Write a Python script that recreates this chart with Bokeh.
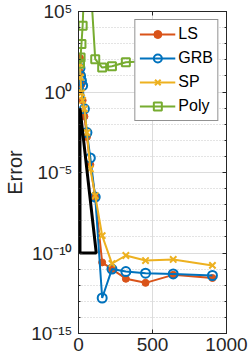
from bokeh.plotting import figure
from bokeh.models import Range1d, FixedTicker, LogAxis, LinearAxis
from bokeh.embed import file_html
from bokeh.resources import INLINE

# ---- data ----
N = [10, 14, 20, 28, 40, 57, 80, 113, 160, 226, 320, 453, 640, 905]
err_LS = [1.3e2, 1.6e1, 3e0, 3e-1, 3e-2, 1.6e-3, 3e-5, 3e-7,
          2.6e-11, 1.0e-11, 2.5e-12, 1.4e-12, 4.4e-12, 2.8e-12]
err_GRB = [3e1, 1e1, 5e0, 2.5e0, 9e-2, 3e-3, 8e-5, 3e-7,
           1.6e-13, 1.0e-11, 7e-12, 5.6e-12, 5e-12, 4e-12]
err_SP = [6e1, 8e0, 9e-1, 3e-1, 9e-2, 3e-3, 1.7e-5, 3.6e-7,
          1.2e-9, 2.2e-11, 7e-11, 3.4e-11, 4e-11, 1.7e-11]
N_poly = [10, 14, 20, 28, 40, 57, 80, 113, 160, 226, 320, 453]
err_Poly = [56, 140, 950, 1.3e4, 1e7, 1e8, 1e7, 110, 33, 40, 70, 80]
tri_x = [10, 10, 120, 10]
tri_y = [1e-1, 1e-10, 1e-10, 1e-1]

x_ticks = [0, 500, 1000]
y_ticks = [1e-15, 1e-10, 1e-5, 1e0, 1e5]
y_tick_labels = ["10\u207b\u00b9\u2075", "10\u207b\u00b9\u2070", "10\u207b\u2075", "10\u2070", "10\u2075"]
y_minor = [10.0 ** k for k in range(-15, 6)]

FONT = "Liberation Sans"
AX = "#262626"

p = figure(frame_width=148, frame_height=322, y_axis_type="log",
           x_range=Range1d(0, 1000), y_range=Range1d(1e-15, 1e5),
           output_backend="svg", toolbar_location=None,
           min_border_left=78, min_border_right=23,
           min_border_top=11, min_border_bottom=20)

p.outline_line_color = AX
p.outline_line_alpha = 1
p.outline_line_width = 1

xa = p.below[0]
ya = p.left[0]

# mirrored tick axes (box ticks), labels invisible
ax_top = LinearAxis(ticker=FixedTicker(ticks=x_ticks, minor_ticks=[]),
                    major_label_text_font_size="2px", major_label_text_alpha=0,
                    major_label_standoff=0)
ax_right = LogAxis(ticker=FixedTicker(ticks=y_ticks, minor_ticks=y_minor),
                   major_label_text_font_size="2px", major_label_text_alpha=0,
                   major_label_standoff=0)
p.add_layout(ax_top, "above")
p.add_layout(ax_right, "right")

xa.ticker = FixedTicker(ticks=x_ticks, minor_ticks=[])
ya.ticker = FixedTicker(ticks=y_ticks, minor_ticks=y_minor)
ya.major_label_overrides = {t: l for t, l in zip(y_ticks, y_tick_labels)}
for ax in (xa, ya, ax_top, ax_right):
    ax.axis_line_color = AX
    ax.major_tick_line_color = AX
    ax.minor_tick_line_color = AX
    ax.major_tick_in = 4
    ax.major_tick_out = 0
    ax.minor_tick_in = 2
    ax.minor_tick_out = 0
    ax.major_label_text_font = FONT
    ax.major_label_text_color = AX
for ax in (xa, ya):
    ax.major_label_text_font_size = "19px"
xa.major_label_standoff = 4
ya.major_label_standoff = 6
ya.axis_label = "Error"
ya.axis_label_text_font = FONT
ya.axis_label_text_font_size = "20px"
ya.axis_label_text_font_style = "normal"
ya.axis_label_text_color = AX
ya.axis_label_standoff = 2

# grids
p.xgrid.ticker = FixedTicker(ticks=x_ticks, minor_ticks=[])
p.xgrid.grid_line_color = "#dcdcdc"
p.ygrid.grid_line_color = "#dcdcdc"
p.ygrid.minor_grid_line_color = "#c8c8c8"
p.ygrid.minor_grid_line_dash = "1 2"

LSc, GRBc, SPc, POc = "#D95319", "#0072BD", "#EDB120", "#77AC30"
LW = 2

p.line(N, err_LS, color=LSc, line_width=LW, legend_label="LS")
p.scatter(N, err_LS, marker="circle", size=7, color=LSc, legend_label="LS")

p.line(N, err_GRB, color=GRBc, line_width=LW, legend_label="GRB")
p.scatter(N, err_GRB, marker="circle", size=9, line_color=GRBc, fill_color=None,
          line_width=2, legend_label="GRB")

p.line(N, err_SP, color=SPc, line_width=LW, legend_label="SP")
p.scatter(N, err_SP, marker="x", size=9, line_color=SPc, line_width=2, legend_label="SP")

p.line(N_poly, err_Poly, color=POc, line_width=LW, legend_label="Poly")
p.scatter(N_poly, err_Poly, marker="square", size=8, line_color=POc, fill_color=None,
          line_width=2, legend_label="Poly")

p.line(tri_x, tri_y, color="black", line_width=3)

lg = p.legend[0]
lg.location = "top_right"
lg.margin = 8
lg.padding = 4
lg.spacing = 4
lg.glyph_width = 36
lg.glyph_height = 20
lg.label_height = 20
lg.label_standoff = 3
lg.label_text_font = FONT
lg.label_text_font_size = "16px"
lg.label_text_color = "black"
lg.border_line_color = AX
lg.border_line_width = 1
lg.background_fill_alpha = 1

open("out.html", "w").write(file_html(p, INLINE))
